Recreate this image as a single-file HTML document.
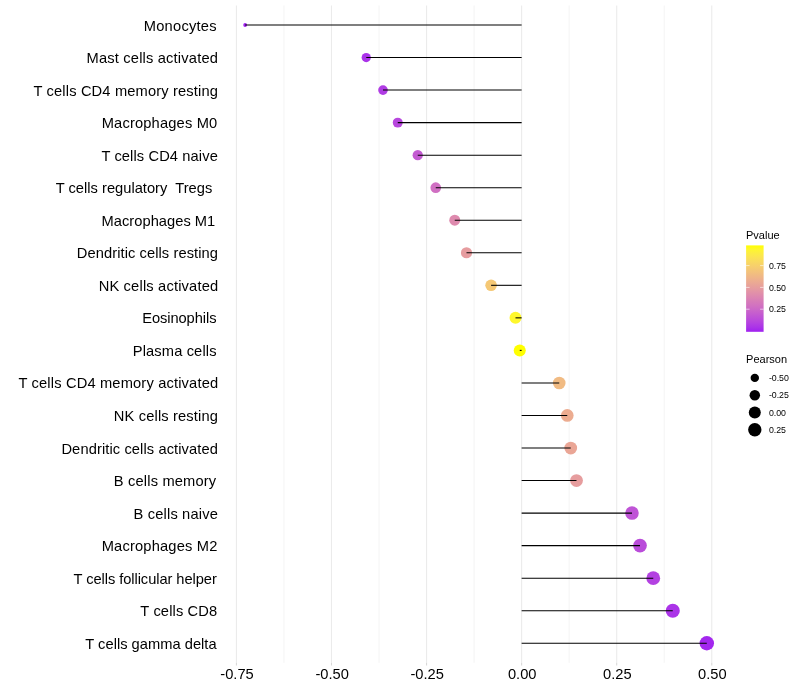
<!DOCTYPE html>
<html><head><meta charset="utf-8"><title>chart</title>
<style>
html,body{margin:0;padding:0;background:#fff;}
body{width:800px;height:700px;overflow:hidden;}
svg{display:block;will-change:transform;}
text{font-family:"Liberation Sans",sans-serif;fill:#000;filter:grayscale(1);}
.yl{font-size:15px;text-anchor:end;}
.yl2{font-size:14.67px;text-anchor:start;white-space:pre;}
.xl{font-size:14.67px;text-anchor:middle;}
.lt{font-size:11px;}
.ll{font-size:8.8px;}
</style></head><body>
<svg width="800" height="700" viewBox="0 0 800 700">
<rect width="800" height="700" fill="#fff"/>
<line x1="283.96" x2="283.96" y1="5.48" y2="662.8" stroke="#EBEBEB" stroke-width="0.53"/>
<line x1="379.02" x2="379.02" y1="5.48" y2="662.8" stroke="#EBEBEB" stroke-width="0.53"/>
<line x1="474.10" x2="474.10" y1="5.48" y2="662.8" stroke="#EBEBEB" stroke-width="0.53"/>
<line x1="569.16" x2="569.16" y1="5.48" y2="662.8" stroke="#EBEBEB" stroke-width="0.53"/>
<line x1="664.24" x2="664.24" y1="5.48" y2="662.8" stroke="#EBEBEB" stroke-width="0.53"/>
<line x1="236.42" x2="236.42" y1="5.48" y2="662.8" stroke="#EBEBEB" stroke-width="1.07"/>
<line x1="236.42" x2="236.42" y1="662.8" y2="665.5" stroke="#D8D8D8" stroke-width="1.07"/>
<line x1="331.49" x2="331.49" y1="5.48" y2="662.8" stroke="#EBEBEB" stroke-width="1.07"/>
<line x1="331.49" x2="331.49" y1="662.8" y2="665.5" stroke="#D8D8D8" stroke-width="1.07"/>
<line x1="426.56" x2="426.56" y1="5.48" y2="662.8" stroke="#EBEBEB" stroke-width="1.07"/>
<line x1="426.56" x2="426.56" y1="662.8" y2="665.5" stroke="#D8D8D8" stroke-width="1.07"/>
<line x1="521.63" x2="521.63" y1="5.48" y2="662.8" stroke="#EBEBEB" stroke-width="1.07"/>
<line x1="521.63" x2="521.63" y1="662.8" y2="665.5" stroke="#D8D8D8" stroke-width="1.07"/>
<line x1="616.70" x2="616.70" y1="5.48" y2="662.8" stroke="#EBEBEB" stroke-width="1.07"/>
<line x1="616.70" x2="616.70" y1="662.8" y2="665.5" stroke="#D8D8D8" stroke-width="1.07"/>
<line x1="711.77" x2="711.77" y1="5.48" y2="662.8" stroke="#EBEBEB" stroke-width="1.07"/>
<line x1="711.77" x2="711.77" y1="662.8" y2="665.5" stroke="#D8D8D8" stroke-width="1.07"/>
<circle cx="245.15" cy="25.0" r="1.89" fill="#A020F0"/>
<circle cx="366.25" cy="57.54" r="4.63" fill="#AA32E9"/>
<circle cx="383.0" cy="90.08" r="4.81" fill="#B03CE4"/>
<circle cx="397.75" cy="122.62" r="4.96" fill="#B747DD"/>
<circle cx="417.75" cy="155.16" r="5.16" fill="#C35AD1"/>
<circle cx="435.75" cy="187.69" r="5.32" fill="#D06FC2"/>
<circle cx="454.75" cy="220.23" r="5.49" fill="#DE8AAE"/>
<circle cx="466.5" cy="252.77" r="5.59" fill="#E69C9F"/>
<circle cx="491.1" cy="285.31" r="5.79" fill="#F5C875"/>
<circle cx="515.5" cy="317.85" r="5.98" fill="#FEF72C"/>
<circle cx="519.75" cy="350.39" r="6.01" fill="#FFFF00"/>
<circle cx="559.25" cy="382.93" r="6.29" fill="#F1BB83"/>
<circle cx="567.25" cy="415.47" r="6.35" fill="#ECAC90"/>
<circle cx="570.75" cy="448.01" r="6.37" fill="#EAA696"/>
<circle cx="576.5" cy="480.55" r="6.41" fill="#E69D9E"/>
<circle cx="632.0" cy="513.09" r="6.78" fill="#BF54D6"/>
<circle cx="640.0" cy="545.62" r="6.83" fill="#BA4CDA"/>
<circle cx="653.25" cy="578.16" r="6.91" fill="#B341E1"/>
<circle cx="672.75" cy="610.7" r="7.03" fill="#AB34E8"/>
<circle cx="706.8" cy="643.24" r="7.23" fill="#A327EE"/>
<line x1="245.15" x2="521.63" y1="25.0" y2="25.0" stroke="#000" stroke-width="1.07"/>
<line x1="366.25" x2="521.63" y1="57.54" y2="57.54" stroke="#000" stroke-width="1.07"/>
<line x1="383.00" x2="521.63" y1="90.08" y2="90.08" stroke="#000" stroke-width="1.07"/>
<line x1="397.75" x2="521.63" y1="122.62" y2="122.62" stroke="#000" stroke-width="1.07"/>
<line x1="417.75" x2="521.63" y1="155.16" y2="155.16" stroke="#000" stroke-width="1.07"/>
<line x1="435.75" x2="521.63" y1="187.69" y2="187.69" stroke="#000" stroke-width="1.07"/>
<line x1="454.75" x2="521.63" y1="220.23" y2="220.23" stroke="#000" stroke-width="1.07"/>
<line x1="466.50" x2="521.63" y1="252.77" y2="252.77" stroke="#000" stroke-width="1.07"/>
<line x1="491.10" x2="521.63" y1="285.31" y2="285.31" stroke="#000" stroke-width="1.07"/>
<line x1="515.50" x2="521.63" y1="317.85" y2="317.85" stroke="#000" stroke-width="1.07"/>
<line x1="519.75" x2="521.63" y1="350.39" y2="350.39" stroke="#000" stroke-width="1.07"/>
<line x1="521.63" x2="559.25" y1="382.93" y2="382.93" stroke="#000" stroke-width="1.07"/>
<line x1="521.63" x2="567.25" y1="415.47" y2="415.47" stroke="#000" stroke-width="1.07"/>
<line x1="521.63" x2="570.75" y1="448.01" y2="448.01" stroke="#000" stroke-width="1.07"/>
<line x1="521.63" x2="576.50" y1="480.55" y2="480.55" stroke="#000" stroke-width="1.07"/>
<line x1="521.63" x2="632.00" y1="513.09" y2="513.09" stroke="#000" stroke-width="1.07"/>
<line x1="521.63" x2="640.00" y1="545.62" y2="545.62" stroke="#000" stroke-width="1.07"/>
<line x1="521.63" x2="653.25" y1="578.16" y2="578.16" stroke="#000" stroke-width="1.07"/>
<line x1="521.63" x2="672.75" y1="610.7" y2="610.7" stroke="#000" stroke-width="1.07"/>
<line x1="521.63" x2="706.80" y1="643.24" y2="643.24" stroke="#000" stroke-width="1.07"/>
<text class="yl2" transform="translate(0 30.55) scale(1 1.05)" x="143.78" y="0" textLength="72.73" lengthAdjust="spacing" xml:space="preserve">Monocytes</text>
<text class="yl2" transform="translate(0 63.09) scale(1 1.05)" x="86.60" y="0" textLength="131.32" lengthAdjust="spacing" xml:space="preserve">Mast cells activated</text>
<text class="yl2" transform="translate(0 95.63) scale(1 1.05)" x="33.49" y="0" textLength="184.46" lengthAdjust="spacing" xml:space="preserve">T cells CD4 memory resting</text>
<text class="yl2" transform="translate(0 128.17) scale(1 1.05)" x="101.70" y="0" textLength="115.53" lengthAdjust="spacing" xml:space="preserve">Macrophages M0</text>
<text class="yl2" transform="translate(0 160.71) scale(1 1.05)" x="101.44" y="0" textLength="116.37" lengthAdjust="spacing" xml:space="preserve">T cells CD4 naive</text>
<text class="yl2" transform="translate(0 193.24) scale(1 1.05)" x="55.73" y="0" textLength="156.54" lengthAdjust="spacing" xml:space="preserve">T cells regulatory  Tregs</text>
<text class="yl2" transform="translate(0 225.78) scale(1 1.05)" x="101.58" y="0" textLength="113.67" lengthAdjust="spacing" xml:space="preserve">Macrophages M1</text>
<text class="yl2" transform="translate(0 258.32) scale(1 1.05)" x="76.84" y="0" textLength="141.11" lengthAdjust="spacing" xml:space="preserve">Dendritic cells resting</text>
<text class="yl2" transform="translate(0 290.86) scale(1 1.05)" x="98.67" y="0" textLength="119.48" lengthAdjust="spacing" xml:space="preserve">NK cells activated</text>
<text class="yl2" transform="translate(0 323.40) scale(1 1.05)" x="142.19" y="0" textLength="74.29" lengthAdjust="spacing" xml:space="preserve">Eosinophils</text>
<text class="yl2" transform="translate(0 355.94) scale(1 1.05)" x="132.81" y="0" textLength="83.67" lengthAdjust="spacing" xml:space="preserve">Plasma cells</text>
<text class="yl2" transform="translate(0 388.48) scale(1 1.05)" x="18.46" y="0" textLength="199.68" lengthAdjust="spacing" xml:space="preserve">T cells CD4 memory activated</text>
<text class="yl2" transform="translate(0 421.02) scale(1 1.05)" x="113.86" y="0" textLength="104.09" lengthAdjust="spacing" xml:space="preserve">NK cells resting</text>
<text class="yl2" transform="translate(0 453.56) scale(1 1.05)" x="61.44" y="0" textLength="156.49" lengthAdjust="spacing" xml:space="preserve">Dendritic cells activated</text>
<text class="yl2" transform="translate(0 486.10) scale(1 1.05)" x="113.87" y="0" textLength="102.26" lengthAdjust="spacing" xml:space="preserve">B cells memory</text>
<text class="yl2" transform="translate(0 518.64) scale(1 1.05)" x="133.62" y="0" textLength="84.20" lengthAdjust="spacing" xml:space="preserve">B cells naive</text>
<text class="yl2" transform="translate(0 551.17) scale(1 1.05)" x="101.70" y="0" textLength="115.66" lengthAdjust="spacing" xml:space="preserve">Macrophages M2</text>
<text class="yl2" transform="translate(0 583.71) scale(1 1.05)" x="73.54" y="0" textLength="143.29" lengthAdjust="spacing" xml:space="preserve">T cells follicular helper</text>
<text class="yl2" transform="translate(0 616.25) scale(1 1.05)" x="140.36" y="0" textLength="76.83" lengthAdjust="spacing" xml:space="preserve">T cells CD8</text>
<text class="yl2" transform="translate(0 648.79) scale(1 1.05)" x="85.31" y="0" textLength="131.33" lengthAdjust="spacing" xml:space="preserve">T cells gamma delta</text>
<text class="xl" transform="translate(0 678.8) scale(1 1.05)" x="237.02" y="0">-0.75</text>
<text class="xl" transform="translate(0 678.8) scale(1 1.05)" x="332.09" y="0">-0.50</text>
<text class="xl" transform="translate(0 678.8) scale(1 1.05)" x="427.16" y="0">-0.25</text>
<text class="xl" transform="translate(0 678.8) scale(1 1.05)" x="522.23" y="0">0.00</text>
<text class="xl" transform="translate(0 678.8) scale(1 1.05)" x="617.30" y="0">0.25</text>
<text class="xl" transform="translate(0 678.8) scale(1 1.05)" x="712.37" y="0">0.50</text>
<defs><linearGradient id="g" x1="0" y1="1" x2="0" y2="0"><stop offset="0.000" stop-color="#A020F0"/><stop offset="0.050" stop-color="#AA33E8"/><stop offset="0.100" stop-color="#B441E1"/><stop offset="0.150" stop-color="#BC4ED9"/><stop offset="0.200" stop-color="#C35AD1"/><stop offset="0.250" stop-color="#CA66C9"/><stop offset="0.300" stop-color="#D171C1"/><stop offset="0.350" stop-color="#D67BB9"/><stop offset="0.400" stop-color="#DC86B1"/><stop offset="0.450" stop-color="#E190A9"/><stop offset="0.500" stop-color="#E59BA0"/><stop offset="0.550" stop-color="#E9A597"/><stop offset="0.600" stop-color="#EDAF8E"/><stop offset="0.650" stop-color="#F0B984"/><stop offset="0.700" stop-color="#F3C37A"/><stop offset="0.750" stop-color="#F6CD6F"/><stop offset="0.800" stop-color="#F8D763"/><stop offset="0.850" stop-color="#FBE156"/><stop offset="0.900" stop-color="#FCEB46"/><stop offset="0.950" stop-color="#FEF530"/><stop offset="1.000" stop-color="#FFFF00"/></linearGradient></defs>
<text class="lt" x="746.0" y="238.7">Pvalue</text>
<rect x="746.1" y="245.4" width="17.5" height="86.4" fill="url(#g)"/>
<line x1="746.1" x2="749.6" y1="265.6" y2="265.6" stroke="#fff" stroke-width="0.6"/><line x1="760.1" x2="763.6" y1="265.6" y2="265.6" stroke="#fff" stroke-width="0.6"/>
<line x1="746.1" x2="749.6" y1="287.4" y2="287.4" stroke="#fff" stroke-width="0.6"/><line x1="760.1" x2="763.6" y1="287.4" y2="287.4" stroke="#fff" stroke-width="0.6"/>
<line x1="746.1" x2="749.6" y1="309.2" y2="309.2" stroke="#fff" stroke-width="0.6"/><line x1="760.1" x2="763.6" y1="309.2" y2="309.2" stroke="#fff" stroke-width="0.6"/>
<text class="ll" transform="translate(0 268.75) scale(1 1.1)" x="768.9" y="0" textLength="17.1" lengthAdjust="spacing">0.75</text>
<text class="ll" transform="translate(0 290.55) scale(1 1.1)" x="768.9" y="0" textLength="17.1" lengthAdjust="spacing">0.50</text>
<text class="ll" transform="translate(0 312.35) scale(1 1.1)" x="768.9" y="0" textLength="17.1" lengthAdjust="spacing">0.25</text>
<text class="lt" x="746.1" y="362.8" textLength="41.0" lengthAdjust="spacing">Pearson</text>
<circle cx="754.8" cy="377.9" r="4.20" fill="#000"/>
<text class="ll" transform="translate(0 381.05) scale(1 1.1)" x="768.9" y="0" textLength="20.0" lengthAdjust="spacing">-0.50</text>
<circle cx="754.8" cy="395.2" r="5.24" fill="#000"/>
<text class="ll" transform="translate(0 398.35) scale(1 1.1)" x="768.9" y="0" textLength="20.0" lengthAdjust="spacing">-0.25</text>
<circle cx="754.8" cy="412.5" r="6.02" fill="#000"/>
<text class="ll" transform="translate(0 415.65) scale(1 1.1)" x="768.9" y="0" textLength="17.1" lengthAdjust="spacing">0.00</text>
<circle cx="754.8" cy="429.7" r="6.68" fill="#000"/>
<text class="ll" transform="translate(0 432.85) scale(1 1.1)" x="768.9" y="0" textLength="17.1" lengthAdjust="spacing">0.25</text>
</svg>
</body></html>
